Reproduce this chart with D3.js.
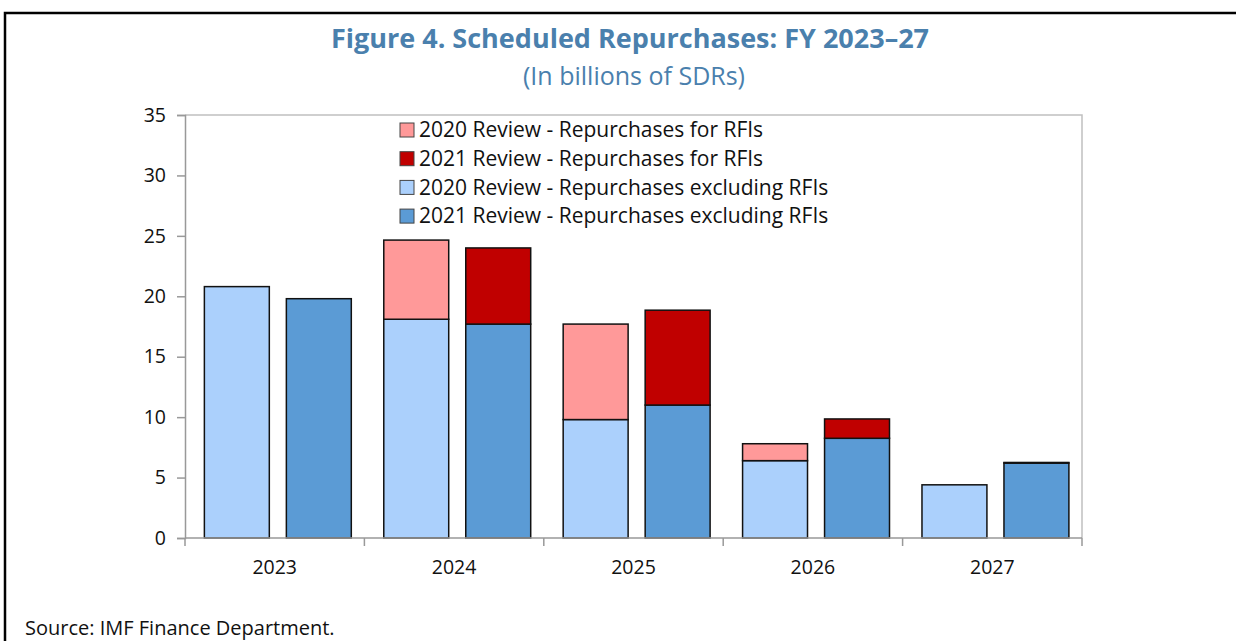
<!DOCTYPE html>
<html>
<head>
<meta charset="utf-8">
<script src="https://cdn.jsdelivr.net/npm/d3@7"></script>
<style>
  body { margin: 0; background: #fff; }
  text { font-family: "Open Sans", "Noto Sans", sans-serif; }
</style>
</head>
<body>
<div id="chart"></div>
<script>
// data
var years = ["2023", "2024", "2025", "2026", "2027"];
var excl2020 = [20.8, 18.1, 9.8, 6.4, 4.4];
var rfi2020 = [0, 6.55, 7.9, 1.4, 0];
var excl2021 = [19.8, 17.7, 11.0, 8.25, 6.2];
var rfi2021 = [0, 6.3, 7.85, 1.6, 0.05];
var yTicks = [0, 5, 10, 15, 20, 25, 30, 35];
var legendLabels = [
  "2020 Review - Repurchases for RFIs",
  "2021 Review - Repurchases for RFIs",
  "2020 Review - Repurchases excluding RFIs",
  "2021 Review - Repurchases excluding RFIs"
];
var legendColors = ["#ff9999", "#c00000", "#abd0fc", "#5b9bd5"];

var W = 1236, H = 641;
var margin = {top: 115, left: 185, right: 154, bottom: 103};
var width = W - margin.left - margin.right,
    height = H - margin.top - margin.bottom;

var svg = d3.select("#chart").append("svg")
  .attr("width", W).attr("height", H);

// outer frame
svg.append("path")
  .attr("d", "M5," + H + "V13H" + W)
  .attr("fill", "none").attr("stroke", "#000").attr("stroke-width", 2.5);

// title
svg.append("text")
  .attr("x", 630).attr("y", 48)
  .attr("text-anchor", "middle")
  .style("font-size", "27px").style("font-weight", "bold")
  .attr("fill", "#4a80ad")
  .text("Figure 4. Scheduled Repurchases: FY 2023\u201327");

svg.append("text")
  .attr("x", 634).attr("y", 85)
  .attr("text-anchor", "middle")
  .style("font-size", "25px")
  .attr("fill", "#4a80ad")
  .text("(In billions of SDRs)");

var g = svg.append("g")
  .attr("transform", "translate(" + margin.left + "," + margin.top + ")");

var x = d3.scaleBand().domain(years).range([0, width]).padding(0);
var y = d3.scaleLinear().domain([0, 35]).range([height, 0]);

// plot area border
g.append("path")
  .attr("d", "M0,0H" + width + "V" + height)
  .attr("fill", "none").attr("stroke", "#c0c0c0").attr("stroke-width", 1.5);

var bw = x.bandwidth();
var barW = bw * 0.362;
var off1 = bw * 0.108, off2 = off1 + barW + bw * 0.095;

function stack(base, top, offset, cBase, cTop) {
  years.forEach(function(yr, i) {
    var x0 = x(yr) + offset;
    g.append("rect")
      .attr("x", x0).attr("y", y(base[i]))
      .attr("width", barW).attr("height", y(0) - y(base[i]))
      .attr("fill", cBase).attr("stroke", "#111").attr("stroke-width", 1.5);
    if (top[i] > 0) {
      g.append("rect")
        .attr("x", x0).attr("y", y(base[i] + top[i]))
        .attr("width", barW).attr("height", y(base[i]) - y(base[i] + top[i]))
        .attr("fill", cTop).attr("stroke", "#111").attr("stroke-width", 1.5);
    }
  });
}
stack(excl2020, rfi2020, off1, legendColors[2], legendColors[0]);
stack(excl2021, rfi2021, off2, legendColors[3], legendColors[1]);

// axes
var yAxis = g.append("g")
  .call(d3.axisLeft(y).tickValues(yTicks).tickSize(8).tickPadding(11));
var xAxis = g.append("g")
  .attr("transform", "translate(0," + height + ")")
  .call(d3.axisBottom(x).tickSize(0).tickPadding(22));

xAxis.selectAll(".tick").append("line")
  .attr("x1", -bw / 2).attr("x2", -bw / 2).attr("y2", 8);
xAxis.append("line")
  .attr("x1", width).attr("x2", width).attr("y2", 8);

[yAxis, xAxis].forEach(function(a) {
  a.selectAll("path, line").attr("stroke", "#999").attr("stroke-width", 1.5);
  a.selectAll("text").style("font-size", "19.5px").attr("fill", "#111")
    .style("font-family", "'Open Sans', sans-serif");
});
xAxis.select(".domain").attr("d", "M0,0H" + width);

// legend
var legend = g.append("g").attr("transform", "translate(215,15)");
legendLabels.forEach(function(d, i) {
  var row = legend.append("g").attr("transform", "translate(0," + (i * 28.7) + ")");
  row.append("rect")
    .attr("x", 0).attr("y", -7).attr("width", 14).attr("height", 14)
    .attr("fill", legendColors[i]).attr("stroke", "#444").attr("stroke-width", 1);
  row.append("text")
    .attr("x", 19).attr("y", 0).attr("dy", "0.35em")
    .style("font-size", "21px").attr("fill", "#111")
    .text(d);
});

// source
svg.append("text")
  .attr("x", 25).attr("y", 635)
  .style("font-size", "20px").attr("fill", "#111")
  .text("Source: IMF Finance Department.");
</script>
</body>
</html>
